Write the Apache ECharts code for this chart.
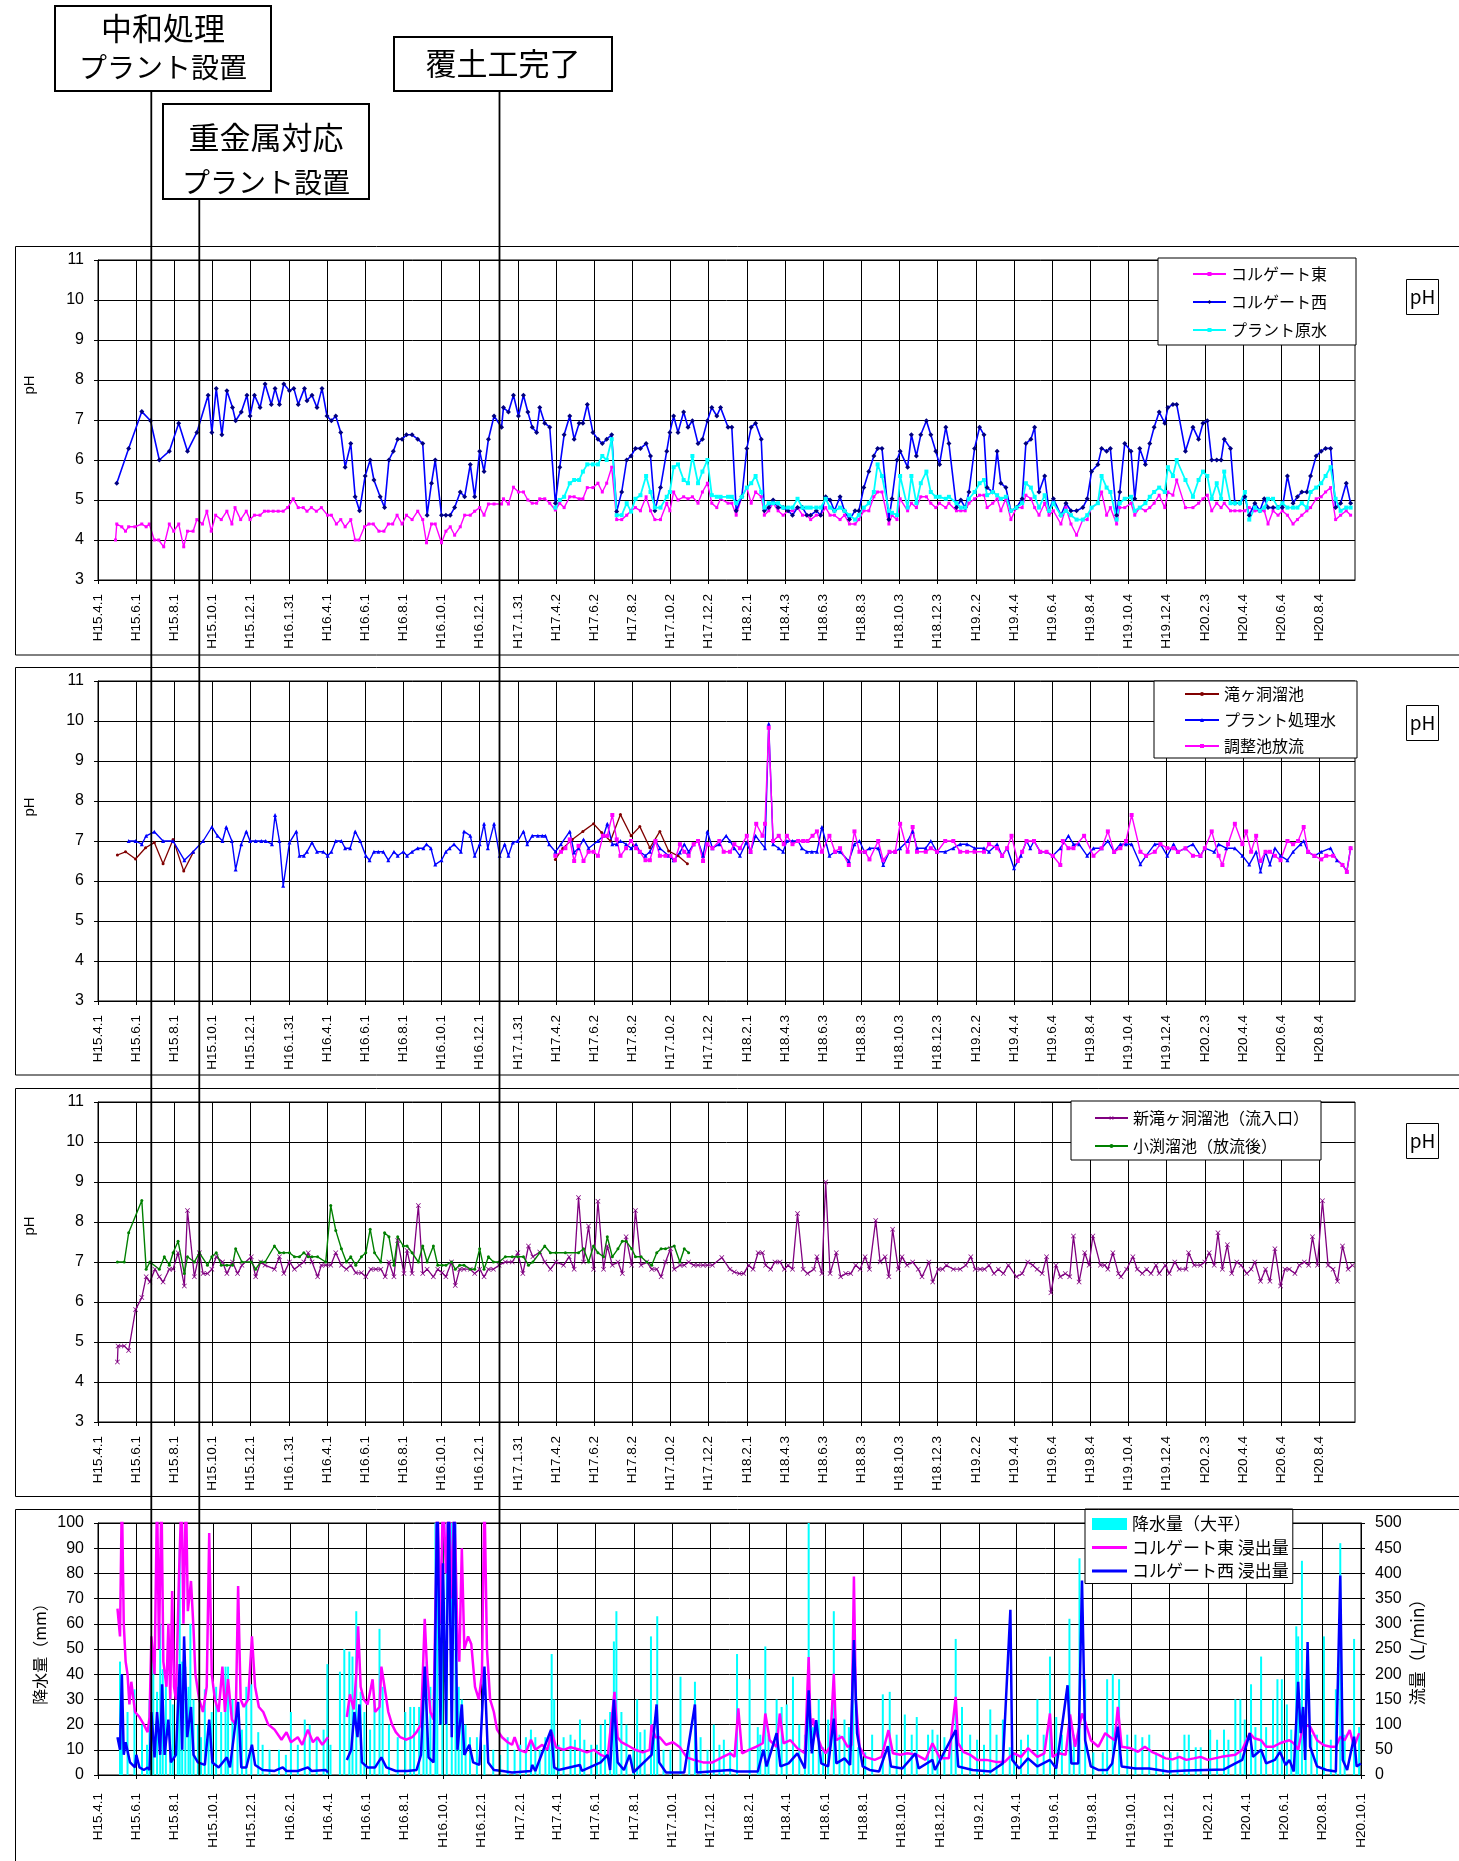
<!DOCTYPE html>
<html><head><meta charset="utf-8">
<script src="https://cdn.jsdelivr.net/npm/echarts@6/dist/echarts.min.js"></script>
<style>html,body{margin:0;padding:0;background:#fff;}#c{width:1459px;height:1861px;}</style>
</head><body><div id="c"></div>
<script>
// ---------- tick labels ----------
const topTickLabels = ['H15.4.1','H15.6.1','H15.8.1','H15.10.1','H15.12.1','H16.1.31','H16.4.1','H16.6.1','H16.8.1','H16.10.1','H16.12.1','H17.1.31','H17.4.2','H17.6.2','H17.8.2','H17.10.2','H17.12.2','H18.2.1','H18.4.3','H18.6.3','H18.8.3','H18.10.3','H18.12.3','H19.2.2','H19.4.4','H19.6.4','H19.8.4','H19.10.4','H19.12.4','H20.2.3','H20.4.4','H20.6.4','H20.8.4'];
const bottomTickLabels = ['H15.4.1','H15.6.1','H15.8.1','H15.10.1','H15.12.1','H16.2.1','H16.4.1','H16.6.1','H16.8.1','H16.10.1','H16.12.1','H17.2.1','H17.4.1','H17.6.1','H17.8.1','H17.10.1','H17.12.1','H18.2.1','H18.4.1','H18.6.1','H18.8.1','H18.10.1','H18.12.1','H19.2.1','H19.4.1','H19.6.1','H19.8.1','H19.10.1','H19.12.1','H20.2.1','H20.4.1','H20.6.1','H20.8.1','H20.10.1'];
const topLastDate = 'H20.9.30';
const bottomLastDate = 'H20.10.1';

// ---------- panel 1 (pH) : [day since H15.4.1, pH] ----------
const eastPH = [[28,4.0],[30,4.4],[38,4.33],[44,4.22],[49,4.33],[59,4.33],[70,4.4],[77,4.33],[82,4.4],[90,4.0],[97,4.0],[105,3.83],[114,4.4],[121,4.22],[129,4.4],[137,3.83],[143,4.22],[152,4.22],[158,4.51],[167,4.4],[174,4.72],[181,4.22],[188,4.62],[197,4.51],[206,4.72],[214,4.4],[219,4.81],[228,4.51],[237,4.72],[243,4.51],[250,4.62],[259,4.62],[266,4.72],[272,4.72],[280,4.72],[288,4.72],[296,4.72],[303,4.81],[312,5.03],[320,4.81],[328,4.81],[334,4.72],[341,4.81],[349,4.72],[357,4.81],[367,4.62],[373,4.62],[381,4.4],[388,4.51],[395,4.33],[404,4.51],[411,4.0],[417,4.0],[426,4.33],[433,4.4],[440,4.4],[449,4.22],[457,4.22],[464,4.4],[471,4.4],[478,4.62],[486,4.4],[493,4.62],[502,4.51],[511,4.72],[519,4.51],[525,3.93],[533,4.4],[539,4.4],[549,3.93],[556,4.22],[563,4.33],[570,4.12],[579,4.33],[586,4.62],[595,4.62],[602,4.72],[610,4.81],[617,4.62],[624,4.9],[633,4.9],[645,4.9],[648,5.03],[656,4.9],[664,5.32],[672,5.2],
[680,5.2],[687,5.0],[694,4.92],[701,4.92],[706,5.03],[714,5.03],[722,4.92],[731,4.75],[738,4.92],[745,4.81],[754,5.08],[761,5.08],[769,5.03],[775,5.03],[782,5.31],[791,5.31],[799,5.42],[806,5.2],[813,5.42],[821,5.82],[829,4.51],[837,4.51],[845,4.62],[852,4.73],[859,4.81],[867,4.73],[876,5.08],[883,4.73],[890,4.51],[899,4.51],[909,4.92],[914,4.73],[920,5.2],[927,5.0],[936,5.08],[943,5.03],[950,5.08],[959,4.92],[966,5.2],[974,5.42],[981,4.92],[989,4.81],[995,5.03],[1007,4.92],[1013,4.92],[1020,4.62],[1029,5.08],[1037,5.31],[1044,4.92],[1051,5.2],[1060,5.08],[1065,4.62],[1072,4.73],[1079,4.92],[1087,4.73],[1095,4.62],[1103,4.73],[1110,4.73],[1118,4.81],[1126,4.62],[1133,4.62],[1139,4.51],[1148,4.62],[1155,4.62],[1163,4.81],[1170,4.62],[1177,4.62],[1186,4.51],[1193,4.62],[1201,4.4],[1210,4.4],[1216,4.51],[1224,4.73],[1232,4.73],[1240,5.08],[1246,5.2],[1253,5.2],[1264,4.4],[1269,4.62],[1277,4.51],[1282,5.03],[1294,4.73],[1300,4.92],[1308,4.81],[1315,5.08],[1324,5.08],[1331,4.92],[1339,4.81],
[1345,4.92],[1355,4.81],[1360,4.92],[1372,4.73],[1379,4.73],[1386,4.73],[1392,4.92],[1401,5.03],[1409,5.12],[1416,5.12],[1421,4.81],[1430,4.92],[1437,5.03],[1443,4.73],[1451,5.03],[1459,4.51],[1468,4.81],[1477,4.81],[1483,5.12],[1491,5.03],[1497,4.81],[1504,4.62],[1513,4.92],[1520,4.62],[1527,4.73],[1539,4.4],[1547,4.81],[1555,4.4],[1564,4.12],[1574,4.51],[1581,4.51],[1588,4.81],[1598,4.92],[1604,5.2],[1612,4.62],[1618,4.81],[1628,4.4],[1633,4.81],[1641,4.81],[1651,4.92],[1657,4.62],[1665,4.81],[1674,4.73],[1681,4.81],[1688,4.92],[1696,5.12],[1705,4.81],[1710,5.2],[1718,5.12],[1724,5.5],[1738,4.81],[1750,4.81],[1759,4.92],[1766,5.03],[1773,5.12],[1780,4.73],[1788,4.92],[1795,4.81],[1800,4.92],[1810,4.73],[1817,4.73],[1825,4.73],[1833,4.73],[1840,4.81],[1849,4.73],[1857,4.73],[1864,4.73],[1870,4.4],[1878,4.73],[1886,4.62],[1893,4.73],[1901,4.62],[1910,4.4],[1917,4.51],[1924,4.62],[1932,4.73],[1938,4.81],[1947,5.03],[1955,5.08],[1962,5.2],[1970,5.31],[1978,4.51],[1986,4.62],[1995,4.73],[2002,4.62]];
const westPH = [[30,5.42],[49,6.29],[70,7.21],[84,6.98],[98,6.0],[114,6.22],[129,6.92],[143,6.22],[158,6.69],[176,7.62],[182,6.69],[189,7.79],[198,6.63],[206,7.73],[215,7.31],[220,6.98],[229,7.2],[238,7.62],[243,7.1],[250,7.62],[259,7.31],[267,7.9],[277,7.39],[283,7.79],[290,7.39],[297,7.9],[306,7.73],[313,7.79],[320,7.39],[330,7.79],[334,7.48],[342,7.62],[350,7.31],[358,7.79],[366,7.1],[373,6.98],[380,7.1],[388,6.69],[395,5.82],[404,6.41],[411,5.08],[418,4.73],[427,5.6],[435,6.0],[441,5.5],[451,5.08],[458,4.81],[465,6.0],[472,6.22],[479,6.52],[486,6.52],[493,6.63],[502,6.63],[511,6.52],[519,6.41],[526,4.62],[533,5.42],[539,6.0],[549,4.62],[556,4.62],[563,4.62],[570,4.81],[579,5.2],[586,5.08],[595,5.89],[602,5.08],[610,6.22],[617,5.71],[624,6.52],[633,7.1],[645,6.82],[648,7.31],[656,7.2],[664,7.62],[672,7.1],
[680,7.62],[687,7.2],[694,6.82],[701,6.69],[706,7.31],[714,6.92],[722,6.82],[731,4.92],[738,5.82],[745,6.63],[754,7.1],[761,6.52],[769,6.92],[775,6.92],[782,7.39],[791,6.69],[799,6.52],[806,6.41],[813,6.52],[821,6.63],[829,4.71],[837,5.2],[845,6.0],[852,6.1],[859,6.29],[867,6.29],[876,6.41],[883,6.1],[890,4.73],[899,5.31],[909,6.22],[914,6.69],[920,7.1],[927,6.69],[936,7.2],[943,6.82],[950,6.98],[959,6.41],[966,6.52],[974,6.98],[981,7.31],[989,7.1],[995,7.31],[1007,6.82],[1013,6.82],[1020,4.73],[1029,5.08],[1037,6.29],[1044,6.82],[1051,6.92],[1060,6.52],[1065,4.73],[1072,4.81],[1079,5.0],[1087,4.81],[1095,4.81],[1103,4.73],[1110,4.62],[1118,4.81],[1126,4.81],[1133,4.62],[1139,4.62],[1148,4.73],[1155,4.62],[1163,5.08],[1170,5.0],[1177,4.73],[1186,5.08],[1193,4.73],[1201,4.51],[1210,4.73],[1216,4.73],[1224,5.31],[1232,5.71],[1240,6.1],[1246,6.29],[1253,6.29],[1264,4.51],[1269,5.03],[1277,6.0],[1282,6.22],[1294,5.82],[1300,6.63],[1308,6.1],[1315,6.63],[1324,6.98],[1331,6.63],[1339,6.22],
[1345,5.89],[1355,6.82],[1360,6.41],[1372,4.81],[1379,5.0],[1386,4.81],[1392,5.2],[1401,6.29],[1409,6.82],[1416,6.63],[1421,5.31],[1430,5.2],[1437,6.22],[1443,5.42],[1451,5.31],[1459,4.73],[1468,4.81],[1477,5.03],[1483,6.41],[1491,6.52],[1497,6.82],[1504,5.2],[1513,5.6],[1520,4.73],[1527,5.03],[1539,4.62],[1547,4.92],[1555,4.73],[1564,4.73],[1574,4.81],[1581,5.03],[1588,5.71],[1598,5.89],[1604,6.29],[1612,6.22],[1618,6.29],[1628,4.62],[1633,5.2],[1641,6.41],[1651,6.22],[1657,5.03],[1665,6.29],[1674,5.89],[1681,6.41],[1688,6.82],[1696,7.2],[1705,6.92],[1710,7.31],[1718,7.39],[1724,7.39],[1738,6.22],[1750,6.82],[1759,6.52],[1766,6.92],[1773,6.98],[1780,6.0],[1788,6.0],[1795,6.0],[1800,6.52],[1810,6.29],[1817,4.92],[1825,4.92],[1833,5.08],[1840,4.62],[1849,4.92],[1857,4.73],[1864,5.03],[1870,4.81],[1878,4.81],[1886,4.81],[1893,4.81],[1901,5.6],[1910,4.92],[1917,5.08],[1924,5.2],[1932,5.2],[1938,5.6],[1947,6.1],[1955,6.22],[1962,6.29],[1970,6.29],[1978,4.81],[1986,4.92],[1995,5.42],[2002,4.92]];
const rawPH = [[731,4.81],[738,5.0],[745,5.08],[754,5.42],[761,5.5],[769,5.5],[775,5.71],[782,5.89],[791,5.89],[799,5.89],[806,6.1],[813,6.0],[821,6.52],[829,4.62],[837,4.62],[845,4.92],[852,4.71],[859,5.03],[867,5.12],[876,5.6],[883,5.2],[890,4.81],[899,4.81],[909,5.08],[914,5.2],[920,5.82],[927,5.89],[936,5.5],[943,5.42],[950,6.1],[959,5.42],[966,5.71],[974,6.0],[981,5.12],[989,5.08],[995,5.08],[1007,5.08],[1013,5.08],[1020,4.92],[1029,5.08],[1037,5.31],[1044,5.42],[1051,5.6],[1060,5.2],[1065,4.81],[1072,4.92],[1079,4.92],[1087,4.92],[1095,4.81],[1103,4.81],[1110,4.81],[1118,5.03],[1126,4.81],[1133,4.81],[1139,4.81],[1148,4.81],[1155,4.81],[1163,5.03],[1170,4.81],[1177,4.73],[1186,4.81],[1193,4.73],[1201,4.62],[1210,4.51],[1216,4.62],[1224,4.81],[1232,4.92],[1240,5.2],[1246,5.89],[1253,5.6],[1264,4.73],[1269,4.68],[1277,4.62],[1282,5.6],[1294,4.81],[1300,5.6],[1308,4.92],[1315,5.42],[1324,5.71],[1331,5.2],[1339,5.08],
[1345,5.08],[1355,5.03],[1360,5.08],[1372,4.92],[1379,4.81],[1386,4.81],[1392,5.03],[1401,5.2],[1409,5.42],[1416,5.5],[1421,5.12],[1430,5.2],[1437,5.12],[1443,5.03],[1451,5.08],[1459,4.73],[1468,4.81],[1477,4.92],[1483,5.42],[1491,5.31],[1497,5.08],[1504,4.81],[1513,5.12],[1520,4.73],[1527,4.92],[1539,4.62],[1547,4.73],[1555,4.62],[1564,4.51],[1574,4.51],[1581,4.62],[1588,4.81],[1598,4.92],[1604,5.6],[1612,5.31],[1618,5.2],[1628,4.51],[1633,4.92],[1641,5.03],[1651,5.08],[1657,4.73],[1665,4.81],[1674,4.92],[1681,5.08],[1688,5.2],[1696,5.31],[1705,5.2],[1710,5.82],[1718,5.6],[1724,6.0],[1738,5.5],[1750,5.08],[1759,5.5],[1766,5.71],[1773,5.6],[1780,5.03],[1788,5.42],[1795,5.03],[1800,5.71],[1810,4.92],[1817,4.92],[1825,4.92],[1833,5.2],[1840,4.51],[1849,4.81],[1857,4.73],[1864,4.81],[1870,5.03],[1878,5.03],[1886,4.81],[1893,4.92],[1901,4.81],[1910,4.81],[1917,4.81],[1924,4.92],[1932,4.81],[1938,5.2],[1947,5.31],[1955,5.42],[1962,5.6],[1970,5.82],[1978,5.03],[1986,4.73],[1995,4.81],[2002,4.81]];

// ---------- panel 2 (pH) ----------
const takiPH = [[31,6.65],[44,6.73],[60,6.55],[76,6.83],[90,6.96],[104,6.43],[120,7.04],[137,6.25],[152,6.71],[440,null],[731,6.54],[743,6.82],[758,7.04],[775,7.24],[792,7.43],[805,7.21],[819,7.0],[835,7.66],[852,7.13],[866,7.36],[882,6.83],[898,7.24],[912,6.75],[927,6.63],[942,6.43]];
const plantPH = [[49,7.0],[60,7.0],[70,6.92],[77,7.13],[90,7.23],[104,7.0],[120,7.0],[138,6.52],[152,6.73],[168,7.0],[182,7.35],[191,7.13],[199,7.0],[205,7.35],[214,7.0],[220,6.29],[229,6.92],[237,7.24],[243,7.0],[252,7.0],[261,7.0],[268,7.0],[278,6.92],[283,7.65],[290,7.0],[296,5.88],[306,6.96],[317,7.24],[322,6.63],[329,6.63],[334,6.73],[342,6.96],[350,6.73],[360,6.73],[367,6.63],[373,6.73],[380,7.0],[389,7.0],[395,6.82],[403,6.82],[411,7.24],[419,7.0],[428,6.63],[434,6.52],[441,6.73],[448,6.73],[456,6.73],[464,6.52],[473,6.73],[479,6.63],[488,6.73],[494,6.63],[502,6.73],[511,6.82],[520,6.82],[525,6.92],[532,6.82],[539,6.41],[549,6.52],[556,6.73],[562,6.82],[569,6.92],[580,6.73],[585,7.24],[595,7.13],[602,6.63],[610,6.92],[617,7.43],[623,6.82],[633,7.43],[642,6.63],[650,6.92],[656,6.63],[663,6.96],[671,7.0],[680,7.24],[686,6.92],[694,7.13],[703,7.13],[710,7.13],[715,7.13],[721,6.92],[731,6.73],[740,6.92],[754,7.24],[761,6.71],[768,6.82],[776,7.04],[784,6.82],[799,7.0],[808,7.13],[814,7.43],[822,6.92],[829,6.92],[835,7.0],[844,6.92],[852,6.82],[860,6.92],[866,6.73],[875,6.63],[882,6.73],[891,7.0],[898,6.82],[912,6.63],[920,6.52],[930,6.71],[937,6.92],[944,6.73],[952,6.92],[959,7.0],[967,6.63],[974,7.24],[982,6.82],[993,6.92],[1004,7.13],
[1010,7.0],[1017,6.82],[1026,6.63],[1036,6.96],[1043,6.73],[1051,7.13],[1066,6.82],[1072,9.93],[1079,6.92],[1088,6.82],[1095,6.73],[1101,7.0],[1110,7.0],[1119,7.0],[1125,6.82],[1133,6.73],[1141,6.73],[1149,6.73],[1157,7.35],[1169,6.63],[1178,6.73],[1186,6.73],[1200,6.5],[1209,6.92],[1217,7.0],[1225,6.73],[1233,6.82],[1247,6.82],[1255,6.4],[1265,6.73],[1274,6.73],[1282,6.82],[1294,7.0],[1302,7.24],[1309,6.82],[1323,6.82],[1331,7.0],[1341,6.73],[1354,6.73],[1367,6.82],[1378,6.92],[1389,6.92],[1401,6.82],[1416,6.82],[1424,6.73],[1437,6.92],[1445,6.63],[1453,6.82],[1464,6.32],[1475,6.63],[1484,7.0],[1490,6.82],[1496,7.0],[1506,6.73],[1516,6.73],[1526,6.63],[1538,6.82],[1551,7.13],[1559,6.92],[1568,6.92],[1581,6.63],[1591,6.82],[1604,6.82],[1614,7.0],[1624,6.73],[1634,6.92],[1643,6.92],[1652,6.92],[1666,6.42],[1675,6.63],[1689,6.92],[1698,6.92],[1709,6.63],[1719,6.92],[1726,6.73],[1738,6.82],[1750,6.92],[1762,6.63],[1769,6.82],[1784,6.73],[1791,6.92],[1803,6.82],[1817,6.82],[1829,6.63],[1840,6.41],[1851,6.73],[1858,6.24],[1866,6.73],[1873,6.41],[1881,6.82],[1890,6.63],[1901,6.52],[1910,6.73],[1922,6.92],[1927,7.0],[1934,6.73],[1944,6.63],[1955,6.73],[1970,6.82],[1980,6.52],[1989,6.41],[1996,6.24],[2002,6.83]];
const outflowPH = [[731,6.63],[740,6.73],[747,6.82],[754,7.04],[761,6.5],[768,6.88],[776,6.5],[784,6.73],[792,6.73],[799,6.63],[807,7.13],[814,7.13],[822,7.65],[829,7.04],[835,6.63],[844,6.82],[852,7.0],[860,6.82],[866,6.73],[875,6.52],[882,6.52],[891,7.0],[898,6.63],[907,6.63],[915,6.63],[922,6.52],[930,6.92],[937,6.73],[944,6.63],[952,6.92],[959,7.0],[967,6.5],[974,6.92],[982,6.82],[993,7.0],[1000,6.73],
[1010,6.73],[1017,6.92],[1026,6.82],[1037,7.13],[1043,6.73],[1052,7.43],[1062,7.13],[1066,7.43],[1072,9.83],[1079,7.0],[1088,7.13],[1096,6.92],[1101,7.13],[1110,6.92],[1119,7.0],[1127,7.0],[1134,7.0],[1142,7.13],[1149,7.24],[1157,6.73],[1169,7.13],[1178,6.73],[1186,6.82],[1200,6.4],[1209,7.24],[1217,6.73],[1226,6.73],[1233,6.54],[1247,7.0],[1255,6.52],[1265,6.73],[1274,6.73],[1282,7.43],[1294,6.73],[1302,7.35],[1309,6.73],[1323,6.73],[1331,6.82],[1341,6.73],[1354,7.0],[1367,7.0],[1378,6.73],[1389,6.73],[1401,6.73],[1416,6.73],[1424,6.92],[1437,6.82],[1445,6.63],[1453,6.82],[1460,7.13],[1470,6.5],[1477,6.73],[1484,7.0],[1496,7.0],[1506,6.73],[1516,6.73],[1526,6.63],[1538,6.4],[1542,7.0],[1551,6.82],[1559,6.82],[1576,7.13],[1591,6.63],[1604,6.82],[1614,7.24],[1624,6.73],[1634,6.82],[1643,7.0],[1652,7.65],[1666,6.73],[1675,6.63],[1689,6.73],[1698,6.92],[1709,6.82],[1719,6.82],[1726,6.73],[1738,6.82],[1750,6.63],[1762,6.63],[1769,6.82],[1780,7.24],[1791,6.63],[1797,6.4],[1806,6.92],[1817,7.43],[1829,6.92],[1835,7.24],[1843,6.73],[1851,7.13],[1858,6.5],[1866,6.73],[1873,6.73],[1881,6.63],[1890,6.52],[1901,7.0],[1910,6.92],[1918,7.0],[1927,7.35],[1934,6.73],[1944,6.63],[1955,6.54],[1963,6.63],[1974,6.63],[1989,6.4],[1996,6.23],[2002,6.82]];

// ---------- panel 3 (pH) ----------
const newTakiPH = [[31,4.5],[32,4.9],[42,4.9],[49,4.79],[60,5.81],[70,6.11],[77,6.63],[83,6.5],[91,6.82],[98,6.63],[104,6.5],[114,6.82],[120,6.82],[128,7.23],[138,6.4],[143,8.29],[154,6.63],[162,7.23],[168,6.71],[175,6.71],[182,6.82],[189,7.13],[199,7.0],[206,6.71],[215,7.0],[223,6.71],[230,6.92],[245,7.13],[252,6.63],[260,7.0],[267,6.92],[282,6.82],[290,7.13],[297,6.71],[306,7.0],[314,6.82],[322,6.92],[329,7.0],[336,7.23],[342,7.0],[351,6.63],[357,6.92],[364,6.92],[372,6.92],[380,7.23],[389,6.92],[397,6.82],[404,6.92],[412,6.73],[421,6.73],[428,6.63],[436,6.82],[444,6.82],[452,6.82],[459,6.63],[465,7.0],[473,6.63],[479,7.54],[489,6.71],[494,7.29],[502,6.71],[512,8.41],[519,6.71],[526,6.82],[536,6.63],[543,6.82],[550,6.73],[556,6.63],[565,7.0],[571,6.41],[578,6.82],[585,6.82],[595,6.82],[602,6.71],[610,6.82],[617,6.63],[624,6.82],[632,6.82],[641,6.92],[651,7.0],[662,7.0],[671,7.23],[679,6.71],[688,7.4],[695,7.13],[706,7.25],[714,7.0],[723,6.82],[732,7.0],[744,6.92],[753,7.13],[761,6.82],[768,8.61],[776,7.0],[784,7.9],[792,6.82],[799,8.52],[808,6.82],[814,7.4],[822,6.92],[831,7.0],[838,6.71],[844,7.63],[853,6.92],[859,8.29],[868,6.92],[877,7.0],[885,6.82],[893,6.82],[900,6.63],[907,7.0],[915,7.33],[921,6.82],[930,6.92],[937,6.92],[944,7.0],[952,6.92],[959,6.92],[967,6.92],[974,6.92],[982,6.92],[997,7.11],[1010,6.82],
[1017,6.75],[1025,6.71],[1032,6.71],[1040,6.92],[1047,6.82],[1055,7.23],[1062,7.23],[1067,6.92],[1075,6.82],[1082,7.0],[1090,7.0],[1097,6.82],[1103,6.92],[1110,6.82],[1118,8.21],[1127,6.82],[1134,6.71],[1144,6.82],[1149,7.13],[1157,6.71],[1163,9.0],[1170,6.71],[1180,7.23],[1187,6.63],[1195,6.71],[1203,6.71],[1211,6.92],[1218,6.82],[1226,7.13],[1233,6.82],[1243,8.04],[1250,7.0],[1258,7.13],[1264,6.63],[1270,7.82],[1279,6.82],[1285,7.13],[1293,6.92],[1302,7.0],[1311,6.82],[1317,6.63],[1328,7.0],[1334,6.5],[1343,6.82],[1350,6.82],[1356,6.92],[1367,6.82],[1378,6.82],[1387,6.92],[1395,7.13],[1402,6.82],[1410,6.82],[1417,6.82],[1424,6.92],[1432,6.71],[1439,6.82],[1447,6.71],[1455,6.92],[1468,6.63],[1477,6.71],[1486,7.0],[1494,6.92],[1501,6.82],[1509,6.71],[1516,7.13],[1523,6.23],[1531,6.92],[1538,6.63],[1546,6.71],[1553,6.63],[1559,7.65],[1568,6.5],[1577,7.23],[1584,6.92],[1590,7.65],[1602,6.92],[1609,6.92],[1614,6.82],[1622,7.23],[1631,6.71],[1635,6.63],[1644,6.82],[1654,7.13],[1661,6.82],[1669,6.71],[1676,6.82],[1683,6.71],[1691,6.92],[1696,6.71],[1706,6.92],[1712,6.71],[1721,7.0],[1728,6.82],[1739,6.82],[1743,7.23],[1752,6.92],[1762,6.92],[1769,7.0],[1776,7.23],[1784,6.92],[1790,7.73],[1797,6.82],[1805,7.43],[1812,6.71],[1820,7.0],[1827,6.92],[1836,6.71],[1843,6.82],[1849,7.0],[1858,6.52],[1866,6.82],[1873,6.52],[1881,7.33],[1890,6.4],[1897,6.82],[1904,6.82],[1913,6.71],[1920,6.92],[1928,7.0],[1935,6.92],[1941,7.63],[1949,6.92],[1957,8.53],[1966,6.92],[1974,6.82],[1981,6.52],[1989,7.4],[1998,6.82],[2005,6.92]];
const obuchiPH = [[31,7.0],[42,7.0],[49,7.73],[70,8.54],[77,6.82],[83,7.0],[98,6.82],[106,7.13],[114,6.92],[120,7.23],[128,7.52],[138,6.71],[143,7.13],[154,7.0],[162,7.23],[175,6.92],[182,7.13],[189,7.23],[197,6.92],[206,6.92],[215,6.92],[220,7.33],[230,7.0],[245,7.0],[252,6.82],[260,7.0],[267,7.0],[282,7.4],[290,7.23],[297,7.23],[306,7.23],[314,7.13],[322,7.13],[329,7.23],[336,7.13],[342,7.13],[351,7.13],[364,7.0],[372,8.41],[380,7.79],[389,7.33],[397,7.0],[404,7.13],[412,6.92],[421,7.13],[428,7.23],[435,7.82],[442,7.23],[452,7.0],[458,7.73],[465,7.63],[473,6.92],[479,7.63],[488,7.4],[494,7.4],[502,7.23],[512,7.0],[519,7.4],[526,7.0],[536,7.4],[543,6.92],[550,6.92],[556,6.92],[565,7.0],[571,6.82],[578,6.92],[585,6.92],[595,6.82],[602,6.82],[610,7.33],[617,6.82],[624,7.13],[632,7.0],[641,7.0],[651,7.13],[662,7.13],[671,7.13],[680,7.13],[688,6.92],[695,7.0],[706,7.23],[714,7.4],[723,7.23],[732,7.23],[747,7.23],[768,7.23],[776,7.33],[784,7.0],[792,7.4],[799,7.23],[808,7.13],[814,7.63],[822,7.13],[831,7.33],[838,7.52],[844,7.52],[853,7.33],[859,7.13],[868,7.13],[877,7.0],[885,6.92],[893,7.23],[900,7.33],[907,7.33],[921,7.4],[930,7.0],[937,7.33],[944,7.23]];

// ---------- panel 4 : rain (mm, left) and flows (L/min, right) ----------
const rainMM = [[35,45],[38,22],[47,25],[58,34],[70,20],[78,12],[82,30],[88,47],[94,33],[99,60],[103,42],[108,37],[115,33],[119,28],[127,35],[130,90],[134,45],[139,43],[144,35],[147,60],[152,30],[159,20],[164,15],[170,34],[176,20],[181,25],[188,35],[196,25],[203,43],[207,43],[214,30],[222,25],[229,18],[236,35],[244,36],[255,17],[262,12],[273,10],[288,10],[299,8],[307,25],[318,12],[329,22],[337,20],[348,15],[359,18],[365,44],[370,12],[385,41],[392,50],[400,49],[405,47],[411,65],[418,33],[424,25],[433,18],[440,30],[448,58],[453,35],[463,20],[477,15],[489,25],[497,27],[503,27],[511,27],[518,30],[523,45],[529,35],[537,100],[540,95],[548,102],[555,101],[563,100],[569,102],[574,35],[579,30],[585,20],[592,15],[603,15],[615,12],[629,10],[640,8],[652,15],[663,10],[672,12],[681,15],[689,18],[696,15],[703,10],[712,15],[718,15],[722,48],[726,30],[733,12],[741,15],[752,16],[759,14],[767,22],[774,14],[785,12],[794,12],[800,20],[807,22],[815,25],[821,53],[825,65],[833,25],[841,20],[852,10],[858,30],[863,17],[870,18],[880,55],[885,15],[890,63],[900,10],[911,10],[927,39],[941,10],[950,37],[959,15],[970,10],[980,20],[989,12],[996,14],[1006,10],
[1017,48],[1037,38],[1050,19],[1054,16],[1062,51],[1067,16],[1080,30],[1088,27],[1096,28],[1106,39],[1116,20],[1125,16],[1131,101],[1138,19],[1147,30],[1154,11],[1162,22],[1171,65],[1180,16],[1188,22],[1195,19],[1202,43],[1210,11],[1221,9],[1232,16],[1249,32],[1260,33],[1271,16],[1284,24],[1295,16],[1303,23],[1321,16],[1328,18],[1336,16],[1347,15],[1358,14],[1365,54],[1375,27],[1388,16],[1399,14],[1410,12],[1420,26],[1430,16],[1440,22],[1451,11],[1458,9],[1469,14],[1480,16],[1495,30],[1505,16],[1515,47],[1525,23],[1534,16],[1546,62],[1553,16],[1562,86],[1571,38],[1584,9],[1599,9],[1606,38],[1615,40],[1625,38],[1638,16],[1651,16],[1662,15],[1673,16],[1684,9],[1695,9],[1707,9],[1718,9],[1729,16],[1736,16],[1747,11],[1755,11],[1770,18],[1781,14],[1792,18],[1799,14],[1810,30],[1818,30],[1825,22],[1835,36],[1842,19],[1851,47],[1859,19],[1870,30],[1877,38],[1884,38],[1892,28],[1899,18],[1907,59],[1910,55],[1916,85],[1922,38],[1931,16],[1940,16],[1951,55],[1962,14],[1970,34],[1977,92],[1984,16],[1999,54],[2007,19]];
const eastFlow = [[31,330],[35,275],[38,560],[41,300],[44,225],[47,200],[50,140],[53,185],[59,125],[66,115],[73,100],[79,85],[82,115],[85,275],[90,200],[94,560],[97,250],[101,560],[104,225],[109,175],[112,300],[115,150],[118,365],[121,175],[124,150],[129,400],[133,560],[136,300],[140,560],[143,325],[148,385],[152,290],[155,200],[161,150],[167,125],[173,175],[177,480],[181,200],[186,150],[192,125],[198,215],[202,125],[207,190],[213,110],[219,100],[223,375],[227,150],[232,135],[239,150],[245,275],[250,175],[256,135],[263,125],[271,100],[281,90],[292,70],[300,85],[307,65],[318,75],[325,60],[334,90],[342,65],[349,75],[357,60],[366,75],[380,null],[396,115],[401,160],[407,130],[411,200],[414,295],[418,175],[423,150],[429,140],[437,190],[441,125],[448,135],[451,215],[456,175],[462,125],[468,100],[474,85],[481,75],[490,70],[500,75],[507,85],[514,100],[520,310],[524,200],[529,125],[534,110],[540,560],[545,300],[549,560],[554,400],[558,560],[563,350],[567,560],[572,275],[575,225],[579,450],[583,250],[589,275],[594,260],[600,175],[606,150],[611,200],[615,560],[619,250],[624,150],[630,125],[635,90],[643,75],[652,65],[659,60],[663,75],[670,50],[681,45],[689,70],[696,50],[707,60],[715,50],[722,85],[729,55],[741,50],[752,55],[767,50],[778,45],[789,50],[800,40],[811,35],[822,165],[827,75],[833,65],[841,60],[848,55],[855,50],[867,45],[878,50],[881,100],[887,75],[894,75],[904,60],[915,65],[926,55],[937,35],[948,30],[963,25],[978,25],[993,35],[1006,43],
[1013,36],[1019,132],[1025,43],[1036,50],[1047,56],[1058,63],[1062,122],[1069,69],[1080,56],[1085,122],[1091,63],[1102,69],[1113,53],[1125,43],[1131,234],[1134,96],[1138,112],[1143,83],[1151,56],[1158,43],[1165,56],[1171,201],[1175,69],[1184,76],[1193,56],[1199,59],[1203,394],[1206,149],[1212,56],[1221,36],[1236,30],[1247,36],[1258,89],[1265,43],[1277,40],[1288,43],[1303,40],[1317,30],[1328,63],[1340,33],[1354,33],[1365,155],[1369,63],[1377,46],[1388,40],[1399,30],[1414,30],[1429,26],[1443,26],[1451,36],[1458,43],[1469,36],[1480,53],[1495,36],[1506,43],[1515,122],[1519,36],[1529,43],[1540,40],[1547,120],[1555,56],[1566,122],[1571,106],[1580,69],[1592,56],[1603,83],[1610,76],[1618,69],[1623,135],[1629,56],[1644,53],[1655,46],[1666,56],[1677,46],[1688,40],[1699,33],[1710,31],[1721,36],[1732,30],[1744,33],[1755,36],[1766,30],[1777,33],[1788,36],[1799,38],[1810,40],[1821,50],[1833,83],[1840,73],[1851,69],[1859,56],[1870,56],[1881,63],[1888,66],[1896,69],[1903,63],[1910,50],[1918,100],[1929,96],[1940,69],[1951,59],[1962,56],[1970,56],[1977,76],[1984,69],[1992,89],[1999,56],[2007,83]];
const westFlow = [[31,75],[35,50],[38,200],[41,40],[44,65],[51,25],[59,15],[61,40],[66,15],[73,10],[79,15],[82,10],[85,125],[90,35],[94,125],[99,40],[102,180],[106,40],[112,110],[116,25],[124,40],[130,220],[134,50],[137,275],[142,75],[148,135],[152,40],[159,25],[170,20],[177,110],[182,25],[192,15],[205,35],[210,15],[223,145],[228,15],[236,15],[245,60],[250,20],[262,10],[281,8],[294,15],[300,8],[318,8],[334,15],[340,8],[362,10],[366,5],[380,null],[396,30],[403,50],[408,125],[413,75],[416,140],[420,25],[429,15],[441,15],[451,35],[459,15],[474,8],[492,8],[507,10],[514,40],[520,215],[526,35],[534,25],[540,560],[545,100],[549,420],[554,100],[558,560],[563,75],[567,560],[572,50],[579,140],[583,40],[591,60],[597,25],[607,20],[615,215],[621,25],[630,10],[644,8],[659,5],[689,8],[691,20],[696,8],[721,90],[726,15],[733,10],[767,20],[770,8],[800,25],[811,40],[815,10],[821,150],[827,25],[837,10],[846,40],[852,5],[881,40],[889,140],[893,25],[904,5],[933,5],[950,140],[953,5],[1006,10],
[1017,7],[1036,7],[1050,7],[1059,50],[1064,17],[1080,83],[1086,17],[1099,23],[1113,43],[1125,13],[1131,168],[1136,43],[1143,109],[1151,23],[1162,17],[1171,112],[1175,23],[1188,33],[1197,20],[1203,268],[1208,83],[1217,17],[1228,10],[1243,7],[1257,57],[1262,17],[1280,13],[1301,43],[1306,13],[1328,30],[1332,10],[1365,89],[1369,17],[1392,10],[1421,7],[1440,23],[1452,328],[1455,30],[1466,13],[1480,33],[1495,17],[1515,30],[1525,13],[1543,178],[1549,23],[1560,23],[1566,386],[1571,69],[1580,17],[1592,10],[1606,10],[1614,23],[1623,96],[1629,17],[1651,13],[1673,13],[1703,7],[1732,9],[1762,10],[1792,11],[1810,23],[1821,30],[1833,83],[1838,36],[1851,50],[1859,23],[1873,30],[1881,46],[1890,20],[1896,30],[1903,7],[1910,185],[1914,83],[1918,135],[1921,30],[1925,264],[1929,56],[1940,17],[1955,10],[1970,7],[1977,396],[1981,30],[1988,10],[1999,76],[2003,17],[2010,23]];

// ---------- helpers (dates -> category index) ----------
const DAY = 86400000, T0 = Date.UTC(2003, 3, 1);
function heisei(s) { const p = s.slice(1).split('.').map(Number); return Date.UTC(1988 + p[0], p[1] - 1, p[2]); }
function dayOf(s) { return Math.round((heisei(s) - T0) / DAY); }
function makeCats(n) { const a = []; for (let i = 0; i < n; i++) { const d = new Date(T0 + i * DAY); a.push('H' + (d.getUTCFullYear() - 1988) + '.' + (d.getUTCMonth() + 1) + '.' + d.getUTCDate()); } return a; }
const topCats = makeCats(dayOf(topLastDate) + 1);
const botCats = makeCats(dayOf(bottomLastDate) + 1);
const topSet = new Set(topTickLabels.map(dayOf));
const botSet = new Set(bottomTickLabels.map(dayOf));

const JP = '"Noto Sans CJK JP", sans-serif';
const NUM = '"Liberation Sans Narrow", "Liberation Sans", sans-serif';
const LAT = '"Liberation Sans", Arial, sans-serif';

function xAxisCfg(gi, cats, set, margin) {
  const f = (i) => set.has(i);
  return { type: 'category', gridIndex: gi, data: cats, boundaryGap: false,
    axisLine: { show: true, lineStyle: { color: '#000', width: 1 } },
    axisTick: { show: true, interval: f, length: 4, lineStyle: { color: '#000' } },
    axisLabel: { interval: f, rotate: 90, margin: margin, fontSize: 13.5, fontFamily: LAT, color: '#000' },
    splitLine: { show: true, interval: f, lineStyle: { color: '#000', width: 1 } } };
}
function phY(gi) {
  return { type: 'value', gridIndex: gi, min: 3, max: 11, interval: 1,
    axisLine: { show: true, lineStyle: { color: '#000' } },
    axisTick: { show: true, length: 4, lineStyle: { color: '#000' } },
    axisLabel: { fontSize: 16, margin: 14, color: '#000', fontFamily: NUM },
    splitLine: { show: true, lineStyle: { color: '#000', width: 1 } } };
}
function lineS(name, xi, yi, data, color, symColor, symbol, size, width) {
  return { type: 'line', name, xAxisIndex: xi, yAxisIndex: yi, data, symbol, symbolSize: size,
    showAllSymbol: true, connectNulls: false, animation: false,
    lineStyle: { color, width }, itemStyle: { color: symColor } };
}
function legendCfg(left, top, names, iw, ih, gap, pad, fs) {
  return { left, top, orient: 'vertical', itemWidth: iw, itemHeight: ih, itemGap: gap, padding: pad,
    backgroundColor: '#fff', borderColor: '#000', borderWidth: 1, selectedMode: false,
    textStyle: { fontFamily: JP, fontSize: fs, color: '#000' }, data: names };
}
const xMark = 'path://M0,1L1,0L5,4L9,0L10,1L6,5L10,9L9,10L5,6L1,10L0,9L4,5Z';
const barIcon = 'path://M0,0H35V3H0Z';

const grids = [
  { left: 98, top: 260, width: 1257, height: 320 },
  { left: 98, top: 681, width: 1257, height: 320 },
  { left: 98, top: 1102, width: 1257, height: 320 },
  { left: 98, top: 1523, width: 1263, height: 252 }
].map(g => Object.assign(g, { show: true, borderColor: '#000', borderWidth: 1, backgroundColor: 'transparent' }));

const annoText = (x, y, t, fs) => ({ type: 'text', x, y, z: 100, style: { text: t, font: fs + 'px ' + JP, fill: '#000', align: 'center', verticalAlign: 'middle' } });
const rect = (x, y, w, h, lw) => ({ type: 'rect', z: 100, shape: { x, y, width: w, height: h }, style: { fill: 'none', stroke: '#000', lineWidth: lw } });
const vline = (x, y1, y2) => ({ type: 'line', z: 100, shape: { x1: x, y1, x2: x, y2 }, style: { stroke: '#000', lineWidth: 1.8 } });
const rotText = (x, y, t, font) => ({ type: 'text', x, y, rotation: Math.PI / 2, z: 50, style: { text: t, font, fill: '#000', align: 'center', verticalAlign: 'middle' } });
const phBox = (y) => [
  { type: 'rect', z: 50, shape: { x: 1406.5, y, width: 32, height: 35 }, style: { fill: '#fff', stroke: '#000', lineWidth: 1 } },
  { type: 'text', z: 51, x: 1422.5, y: y + 17.5, style: { text: 'pH', font: '19px ' + JP, fill: '#000', align: 'center', verticalAlign: 'middle' } }
];

const option = {
  backgroundColor: '#fff',
  animation: false,
  grid: grids,
  xAxis: [xAxisCfg(0, topCats, topSet, 14), xAxisCfg(1, topCats, topSet, 14), xAxisCfg(2, topCats, topSet, 14), xAxisCfg(3, botCats, botSet, 18)],
  yAxis: [phY(0), phY(1), phY(2),
    { type: 'value', gridIndex: 3, min: 0, max: 100, interval: 10, axisLine: { show: true, lineStyle: { color: '#000' } }, axisTick: { show: true, length: 4, lineStyle: { color: '#000' } },
      axisLabel: { fontSize: 16, margin: 14, color: '#000', fontFamily: NUM }, splitLine: { show: true, lineStyle: { color: '#000' } } },
    { type: 'value', gridIndex: 3, position: 'right', min: 0, max: 500, interval: 50, axisLine: { show: true, lineStyle: { color: '#000' } }, axisTick: { show: true, length: 4, lineStyle: { color: '#000' } },
      axisLabel: { fontSize: 16, margin: 14, color: '#000', fontFamily: NUM }, splitLine: { show: false } }],
  legend: [
    legendCfg(1158, 258, ['コルゲート東', 'コルゲート西', 'プラント原水'], 33, 5, 12, [8, 29, 7, 34], 16),
    legendCfg(1154, 681, ['滝ヶ洞溜池', 'プラント処理水', '調整池放流'], 34, 5, 10, [5, 21, 4, 30], 16),
    legendCfg(1071, 1101, ['新滝ヶ洞溜池（流入口）', '小渕溜池（放流後）'], 33, 5, 12, [9, 12, 6, 23], 16),
    legendCfg(1085, 1509, [{ name: '降水量（大平）', icon: 'rect' }, { name: 'コルゲート東 浸出量', icon: barIcon }, { name: 'コルゲート西 浸出量', icon: barIcon }], 35, 12, 6.5, [6.5, 4, 4, 7], 17)
  ],
  series: [
    lineS('コルゲート東', 0, 0, eastPH, '#FF00FF', '#FF00FF', 'rect', 3, 1.4),
    lineS('コルゲート西', 0, 0, westPH, '#0000FF', '#000080', 'diamond', 5, 1.6),
    lineS('プラント原水', 0, 0, rawPH, '#00FFFF', '#00FFFF', 'rect', 4, 1.8),
    lineS('滝ヶ洞溜池', 1, 1, takiPH, '#800000', '#800000', 'circle', 3, 1.3),
    lineS('プラント処理水', 1, 1, plantPH, '#0000FF', '#0000FF', 'triangle', 4, 1.4),
    lineS('調整池放流', 1, 1, outflowPH, '#FF00FF', '#FF00FF', 'rect', 4, 1.4),
    lineS('新滝ヶ洞溜池（流入口）', 2, 2, newTakiPH, '#800080', '#800080', xMark, 5, 1.3),
    lineS('小渕溜池（放流後）', 2, 2, obuchiPH, '#008000', '#008000', 'circle', 3, 1.4),
    { type: 'bar', name: '降水量（大平）', xAxisIndex: 3, yAxisIndex: 3, data: rainMM, barWidth: 2, barGap: '-100%', itemStyle: { color: '#00FFFF' }, animation: false },
    { type: 'line', name: 'コルゲート東 浸出量', xAxisIndex: 3, yAxisIndex: 4, data: eastFlow, symbol: 'none', connectNulls: false, lineStyle: { color: '#FF00FF', width: 2.5 }, itemStyle: { color: '#FF00FF' }, animation: false },
    { type: 'line', name: 'コルゲート西 浸出量', xAxisIndex: 3, yAxisIndex: 4, data: westFlow, symbol: 'none', connectNulls: false, lineStyle: { color: '#0000FF', width: 2.5 }, itemStyle: { color: '#0000FF' }, animation: false }
  ],
  graphic: [
    rect(15.5, 246.5, 1460, 408.5, 1), rect(15.5, 667.5, 1460, 407.5, 1), rect(15.5, 1088.5, 1460, 408, 1), rect(15.5, 1509.5, 1460, 400, 1),
    ...phBox(279.5), ...phBox(705.5), ...phBox(1123.5),
    rotText(30, 385, 'pH', '15px ' + LAT), rotText(30, 807, 'pH', '15px ' + LAT), rotText(30, 1226, 'pH', '15px ' + LAT),
    rotText(40, 1650, '降水量（mm）', '16px ' + JP), rotText(1418, 1648, '流量（L/min）', '17px ' + JP),
    rect(55, 6, 216, 85, 2), annoText(163, 28, '中和処理', 31), annoText(163, 67, 'プラント設置', 28),
    rect(163, 104, 206, 95, 2), annoText(266, 137, '重金属対応', 31), annoText(266, 182, 'プラント設置', 28),
    rect(394, 37, 218, 54, 2), annoText(503, 63, '覆土工完了', 31),
    vline(151.3, 91, 1776), vline(199.3, 199, 1776), vline(499.5, 91, 1776)
  ]
};
const chart = echarts.init(document.getElementById('c'), null, { renderer: 'canvas' });
chart.setOption(option);
</script></body></html>
